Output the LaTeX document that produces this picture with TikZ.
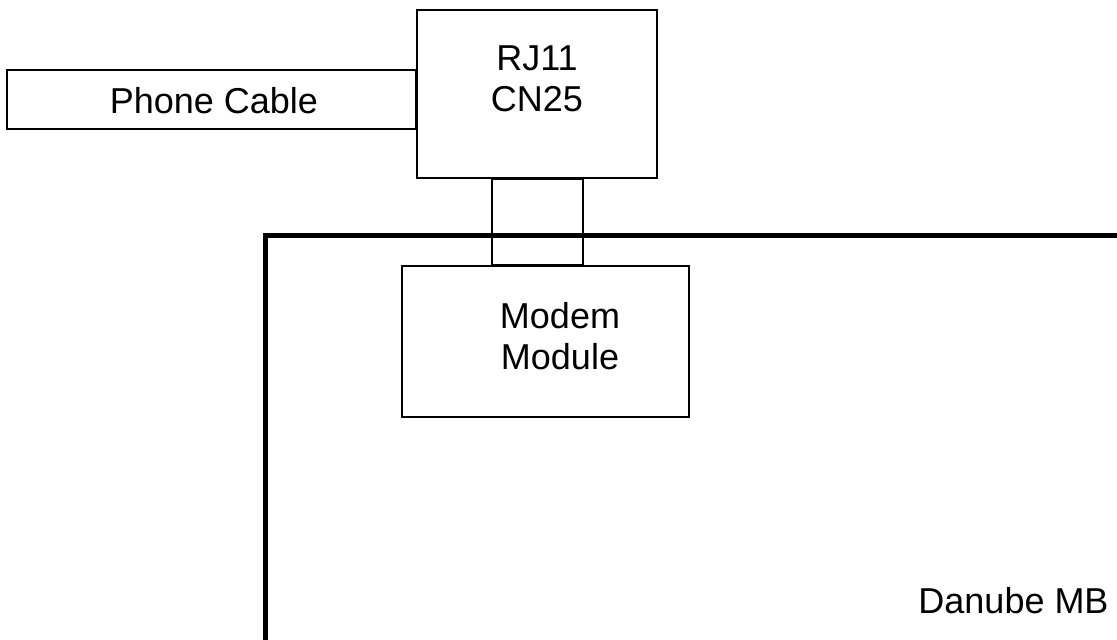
\documentclass[tikz,border=0pt]{standalone}
\usepackage{fontspec}
\setmainfont{Liberation Sans}
\usepackage{tikz}

\tikzset{
  part/.style={draw, line width=1pt, rectangle, inner sep=0pt},
  label text/.style={font=\fontsize{18pt}{20.7pt}\selectfont, align=center, anchor=base},
  board/.style={line width=2.5pt}
}

\begin{document}
\begin{tikzpicture}[x=0.5pt, y=-0.5pt]
    \useasboundingbox (0,0) rectangle (1117,640);
    \clip (0,0) rectangle (1117,640);

    % draw the board outline
    \draw [board] (1130,236) -- (265.5,236) -- (265.5,660);
    \node [label text] (mb) at (1013.5,613) {Danube MB};

    % draw the RJ11 jack
    \node [part, minimum width=120pt, minimum height=84pt] (rj) at (537,94) {};
    \node [label text] (rjtext) at (537,112) {RJ11\\CN25};

    % draw the phone cable
    \node [part, anchor=east, minimum width=204.5pt, minimum height=29.5pt] (cable) at (417,99.5) {};
    \node [label text] (cabletext) at (214,114) {Phone Cable};

    % draw the modem module
    \node [part, minimum width=143.5pt, minimum height=75.5pt] (modem) at (545.5,342) {};
    \node [label text] (modemtext) at (560,369.5) {Modem\\Module};

    % draw the link between jack and module
    \draw [line width=1pt] ([xshift=-22.75pt]rj.south) rectangle ([xshift=22.75pt]rj.south |- modem.north);

  \end{tikzpicture}
\end{document}
